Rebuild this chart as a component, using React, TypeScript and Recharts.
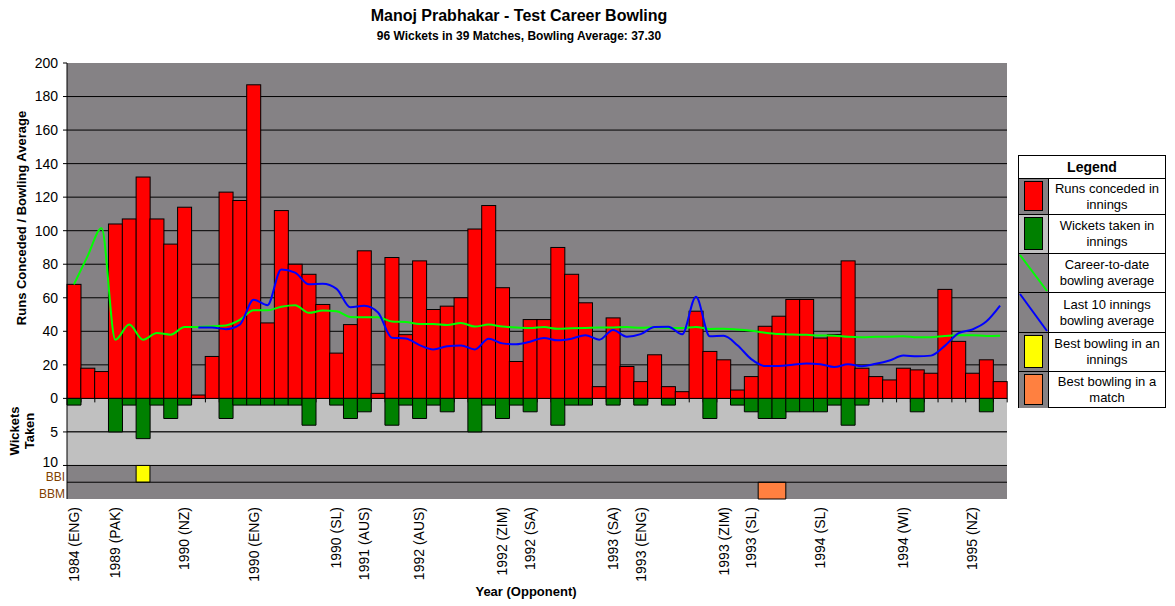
import React from 'react'
import {
  ComposedChart,
  Bar,
  Line,
  XAxis,
  YAxis,
  CartesianGrid,
  ReferenceArea,
  ReferenceLine,
} from 'recharts'

// innings by innings
const runs = [
  68, 18, 16, 104, 107, 132, 107, 92, 114, 2,
  25, 123, 118, 187, 45, 112, 80, 74, 56, 27,
  44, 88, 3, 84, 38, 82, 53, 55, 60, 101,
  115, 66, 22, 47, 47, 90, 74, 57, 7, 48,
  19, 10, 26, 7, 4, 52, 28, 23, 5, 13,
  43, 49, 59, 59, 36, 38, 82, 18, 13, 11,
  18, 17, 15, 65, 34, 15, 23, 10,
]

const wickets = [
  1, 0, 0, 5, 1, 6, 1, 3, 1, 0,
  0, 3, 1, 1, 1, 1, 1, 4, 0, 1,
  3, 2, 0, 4, 1, 3, 1, 2, 0, 5,
  1, 3, 1, 2, 0, 4, 1, 1, 0, 1,
  0, 1, 0, 1, 0, 0, 3, 0, 1, 2,
  3, 3, 2, 2, 2, 1, 4, 1, 0, 0,
  0, 2, 0, 0, 0, 0, 2, 0,
]

const careerAvg = [
  68, 85, 101.5, 35, 44, 35, 39, 38, 42.5, 42.5,
  43, 43.5, 46.8, 52.6, 52.5, 54.7, 55.6, 51, 52.4, 52,
  48.6, 48.4, 48.4, 45.8, 45.5, 44.3, 44.4, 43.8, 45, 42.8,
  44, 42.8, 42.3, 41.9, 42.5, 41.5, 41.8, 42, 42.2, 42.3,
  42.5, 42.1, 42.4, 42, 42, 42.6, 41.4, 41.6, 41.1, 40.3,
  39.2, 38.4, 38.1, 37.9, 37.5, 37.4, 36.7, 36.5, 36.7, 36.8,
  37, 36.4, 36.5, 37.2, 37.6, 37.7, 37.2, 37.3,
]

const last10Avg = [
  null, null, null, null, null, null, null, null, null, 42.2,
  42.2, 41.3, 44, 58.8, 55.6, 76.8, 75, 68, 68.3, 65.3,
  54.3, 55.2, 51.2, 36.2, 35.7, 31.8, 29.2, 31.1, 31.6, 29.2,
  35.6, 32.8, 32.3, 33.8, 36, 34.6, 35.6, 37.7, 35, 40.8,
  36.8, 38.3, 42.5, 42.7, 38.2, 60.6, 37, 37.3, 31.7, 23.4,
  19.3, 19.3, 20.1, 20.8, 20.4, 18.7, 20.3, 19.2, 20.6, 22.6,
  25.5, 25.1, 25.5, 31.3, 38.9, 41.1, 45.8, 55.3,
]

const labelInnings = [1, 4, 9, 14, 20, 22, 26, 32, 34, 40, 42, 48, 50, 55, 61, 66]
const labelTexts = [
  '1984 (ENG)', '1989 (PAK)', '1990 (NZ)', '1990 (ENG)', '1990 (SL)', '1991 (AUS)',
  '1992 (AUS)', '1992 (ZIM)', '1992 (SA)', '1993 (SA)', '1993 (ENG)', '1993 (ZIM)',
  '1993 (SL)', '1994 (SL)', '1994 (WI)', '1995 (NZ)',
]

const runTicks = [0, 20, 40, 60, 80, 100, 120, 140, 160, 180, 200]
const runGrid = [20, 40, 60, 80, 100, 120, 140, 160, 180]
const wicketTicks = [5, 10]
const bestInnings = [6]
const bestMatch = [51, 52]

// wickets hang below zero on the same axis: 1 wicket = 4 runs of height
const WKT_UNIT = 4
const BBI_ROW = [-50, -40]
const BBM_ROW = [-60, -50]

const DARK = '#858285'
const LIGHT = '#C0C0C0'
const FONT = 'Arial, "Liberation Sans", sans-serif'

const data = runs.map((r, i) => ({
  inn: i + 1,
  runs: r,
  wkts: wickets[i] ? -wickets[i] * WKT_UNIT : 0,
  career: careerAvg[i],
  last10: last10Avg[i],
}))

const BBI_MID = BBI_ROW[0] + 5
const BBM_MID = BBM_ROW[0] + 5
const yTicks = [BBM_MID, BBI_MID, ...wicketTicks.map((w) => -w * WKT_UNIT), ...runTicks]

// light grey wickets band, split per 5 wickets, with its rule lines
const wicketBands = [0, 5, 10]

function YTick({ x, y, payload }: any) {
  const v = payload.value
  if (v === BBI_MID || v === BBM_MID) {
    return (
      <text x={x + 7} y={y + 3} dy="0.35em" textAnchor="end" fontSize={12} fontFamily={FONT} fill="#804000">
        {v === BBI_MID ? 'BBI' : 'BBM'}
      </text>
    )
  }
  const label = v < 0 ? String(-v / WKT_UNIT) : String(v)
  return (
    <g>
      <line x1={x + 5} x2={x + 9} y1={y} y2={y} stroke="#000" />
      <text x={x} y={v === -40 ? y - 3 : y} dy="0.35em" textAnchor="end" fontSize={14} fontFamily={FONT} fill="#000">
        {label}
      </text>
    </g>
  )
}

function XTick({ x, y, payload }: any) {
  const k = labelInnings.indexOf(payload.value)
  if (k < 0) return <g />
  return (
    <text
      x={x}
      y={y}
      dy="0.35em"
      transform={`rotate(-90, ${x}, ${y})`}
      textAnchor="end"
      fontSize={14}
      fontFamily={FONT}
      fill="#000"
    >
      {labelTexts[k]}
    </text>
  )
}

// red bar plus the little tick mark on the zero line at its right edge
function RunBar(props: any) {
  const { x, y, width, height } = props
  return (
    <g>
      <rect x={x} y={y} width={width} height={height} fill="#FF0000" stroke="#000" />
      <line x1={x + width} x2={x + width} y1={y + height} y2={y + height + 4} stroke="#000" />
    </g>
  )
}

function BandShape(props: any) {
  const { x, y, width, height } = props
  return (
    <g>
      <rect x={x} y={y} width={width} height={height} fill={LIGHT} />
      <line x1={x} x2={x + width} y1={y} y2={y} stroke="#000" />
      <line x1={x} x2={x + width} y1={y + height} y2={y + height} stroke="#000" />
    </g>
  )
}

const legendRows = [
  { top: 178, h: 36, text: ['Runs conceded in', 'innings'], kind: 'box', color: '#FF0000', bg: DARK },
  { top: 214, h: 39, text: ['Wickets taken in', 'innings'], kind: 'box', color: '#008000', bg: LIGHT },
  { top: 253, h: 39, text: ['Career-to-date', 'bowling average'], kind: 'line', color: '#00FF00', bg: DARK },
  { top: 292, h: 40, text: ['Last 10 innings', 'bowling average'], kind: 'line', color: '#0000FF', bg: DARK },
  { top: 332, h: 39, text: ['Best bowling in an', 'innings'], kind: 'box', color: '#FFFF00', bg: DARK },
  { top: 371, h: 37, text: ['Best bowling in a', 'match'], kind: 'box', color: '#FF8040', bg: DARK },
]

function ChartLegend() {
  const left = 1018
  const top = 155
  const w = 148
  return (
    <div
      style={{
        position: 'absolute',
        left,
        top,
        width: w,
        height: 253,
        border: '1px solid #000',
        boxSizing: 'border-box',
        background: '#fff',
        fontFamily: FONT,
        fontSize: 13,
      }}
    >
      <div style={{ position: 'absolute', left: 0, top: 0, width: w - 2, height: 22, textAlign: 'center', lineHeight: '22px', fontWeight: 'bold', fontSize: 14 }}>
        Legend
      </div>
      {legendRows.map((r, i) => (
        <div
          key={i}
          style={{
            position: 'absolute',
            left: 0,
            top: r.top - top - 1,
            width: w - 2,
            height: r.h,
            borderTop: '1px solid #000',
            boxSizing: 'border-box',
          }}
        >
          <div style={{ position: 'absolute', left: 0, top: 0, width: 30, height: r.h - 1, background: r.bg, borderRight: '1px solid #000', boxSizing: 'border-box' }}>
            {r.kind === 'box' ? (
              <div style={{ position: 'absolute', left: 5, top: 2, width: 19, height: r.h - 6, background: r.color, border: '1px solid #000', boxSizing: 'border-box' }} />
            ) : (
              <svg width={29} height={r.h - 1} style={{ position: 'absolute', left: 0, top: 0 }}>
                <line x1={1} y1={1} x2={28} y2={r.h - 2} stroke={r.color} strokeWidth={2} />
              </svg>
            )}
          </div>
          <div
            style={{
              position: 'absolute',
              left: 30,
              top: 0,
              width: w - 32,
              height: r.h - 1,
              display: 'flex',
              flexDirection: 'column',
              justifyContent: 'center',
              alignItems: 'center',
              lineHeight: '16px',
              color: '#000',
            }}
          >
            {r.text.map((t, j) => (
              <div key={j}>{t}</div>
            ))}
          </div>
        </div>
      ))}
    </div>
  )
}

export default function App() {
  return (
    <div style={{ position: 'absolute', left: 0, top: 0, width: 1175, height: 606, background: '#fff', fontFamily: FONT }}>
      <ComposedChart
        width={1175}
        height={606}
        data={data}
        margin={{ top: 63, right: 168, bottom: 7, left: 7 }}
        stackOffset="sign"
        barCategoryGap={0}
        barGap={0}
      >
        <CartesianGrid vertical={false} horizontalValues={runGrid} stroke="#000" fill={DARK} fillOpacity={1} />
        {wicketBands.slice(1).map((w, i) => (
          <ReferenceArea
            key={'band' + w}
            y1={-w * WKT_UNIT}
            y2={-wicketBands[i] * WKT_UNIT}
            shape={BandShape}
            ifOverflow="visible"
          />
        ))}
        <ReferenceLine y={BBI_ROW[0]} stroke="#000" />
        {bestInnings.map((n) => (
          <ReferenceArea key={'bbi' + n} x1={n} x2={n} y1={BBI_ROW[0]} y2={BBI_ROW[1]} fill="#FFFF00" fillOpacity={1} stroke="#000" />
        ))}
        <ReferenceArea x1={bestMatch[0]} x2={bestMatch[bestMatch.length - 1]} y1={BBM_ROW[0]} y2={BBM_ROW[1]} fill="#FF8040" fillOpacity={1} stroke="#000" />
        <XAxis
          dataKey="inn"
          interval={0}
          height={100}
          tickSize={4}
          tickMargin={4}
          tickLine={false}
          axisLine={false}
          tick={<XTick />}
        />
        <YAxis
          type="number"
          domain={[-60, 200]}
          ticks={yTicks}
          interval={0}
          width={60}
          tickSize={4}
          tickMargin={5}
          tickLine={false}
          axisLine={{ stroke: '#000' }}
          tick={<YTick />}
          allowDataOverflow
        />
        <Bar dataKey="runs" stackId="s" fill="#FF0000" stroke="#000" shape={RunBar} isAnimationActive={false} />
        <Bar dataKey="wkts" stackId="s" fill="#008000" stroke="#000" isAnimationActive={false} />
        <Line dataKey="career" type="monotone" stroke="#00FF00" strokeWidth={2} dot={false} activeDot={false} isAnimationActive={false} />
        <Line dataKey="last10" type="monotone" stroke="#0000FF" strokeWidth={2} dot={false} activeDot={false} isAnimationActive={false} />
      </ComposedChart>

      <svg width={1175} height={606} style={{ position: 'absolute', left: 0, top: 0, pointerEvents: 'none' }}>
        <text x={519} y={21} textAnchor="middle" fontSize={16} fontWeight="bold" fontFamily={FONT}>
          Manoj Prabhakar - Test Career Bowling
        </text>
        <text x={519} y={40} textAnchor="middle" fontSize={12} fontWeight="bold" fontFamily={FONT}>
          96 Wickets in 39 Matches, Bowling Average: 37.30
        </text>
        <text x={21} y={218} dy="0.35em" transform="rotate(-90, 21, 218)" textAnchor="middle" fontSize={13} fontWeight="bold" fontFamily={FONT}>
          Runs Conceded / Bowling Average
        </text>
        <text x={14} y={431} dy="0.35em" transform="rotate(-90, 14, 431)" textAnchor="middle" fontSize={13} fontWeight="bold" fontFamily={FONT}>
          Wickets
        </text>
        <text x={29} y={431} dy="0.35em" transform="rotate(-90, 29, 431)" textAnchor="middle" fontSize={13} fontWeight="bold" fontFamily={FONT}>
          Taken
        </text>
        <text x={526} y={596} textAnchor="middle" fontSize={13} fontWeight="bold" fontFamily={FONT}>
          Year (Opponent)
        </text>
      </svg>

      <ChartLegend />
    </div>
  )
}
